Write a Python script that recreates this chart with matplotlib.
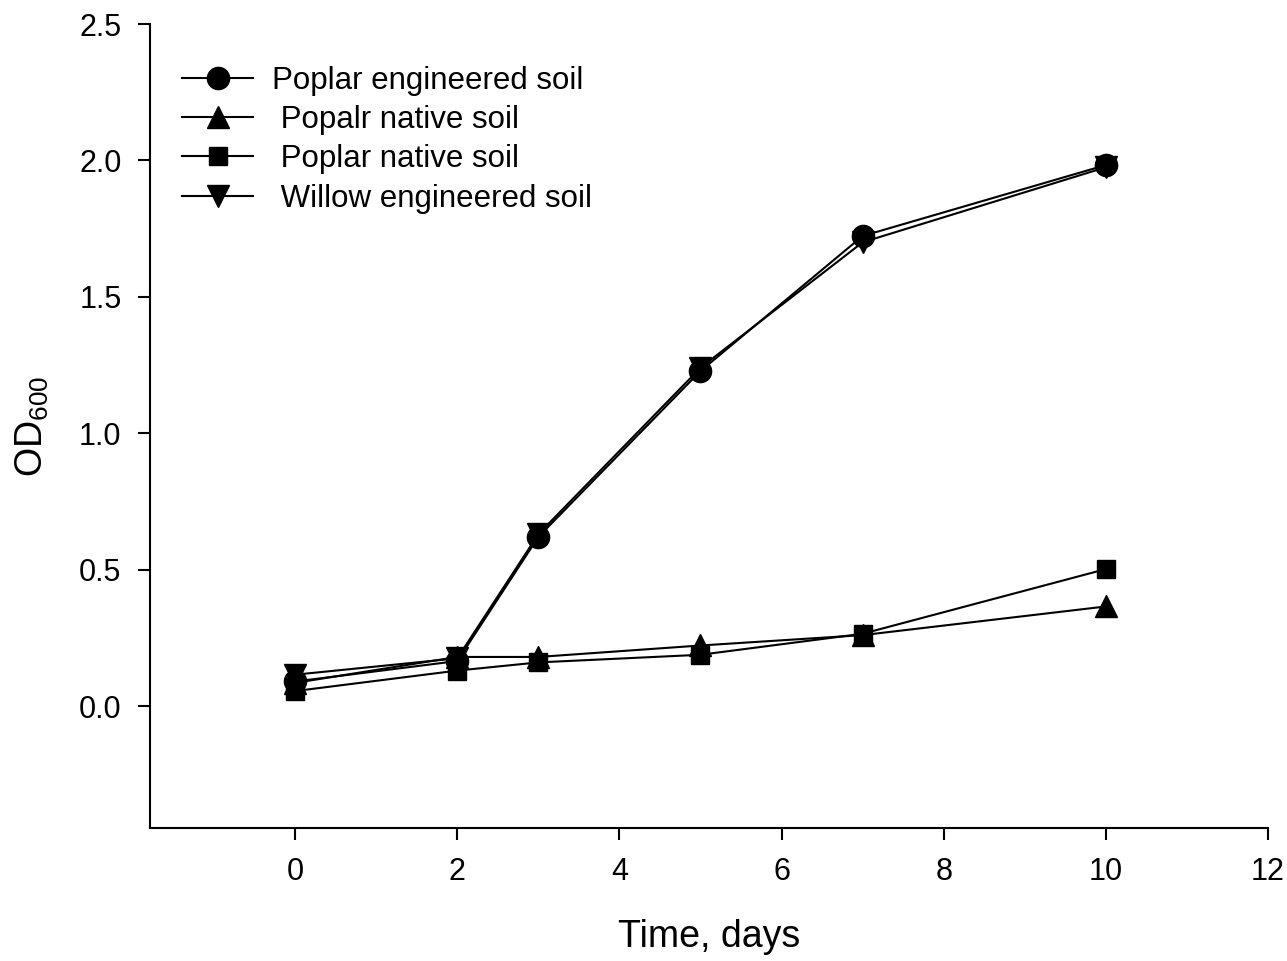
import matplotlib
matplotlib.use("Agg")
import matplotlib.pyplot as plt

plt.rcParams['font.family'] = ['Liberation Sans', 'DejaVu Sans']
plt.rcParams['mathtext.fontset'] = 'custom'
plt.rcParams['mathtext.rm'] = 'Liberation Sans'

days = [0, 2, 3, 5, 7, 10]
poplar_eng = [0.09, 0.165, 0.62, 1.228, 1.723, 1.983]
popalr_native = [0.085, 0.18, 0.18, 0.222, 0.26, 0.365]
poplar_native = [0.055, 0.13, 0.16, 0.188, 0.265, 0.502]
willow_eng = [0.115, 0.175, 0.63, 1.24, 1.70, 1.975]

labels = ["Poplar engineered soil", " Popalr native soil",
          " Poplar native soil", " Willow engineered soil"]

fig = plt.figure(figsize=(12.87, 9.61), dpi=100)
ax = fig.add_axes([0.1166, 0.1384, 0.8686, 0.8366])

style = dict(color='black', lw=1.5)
ax.plot(days, poplar_eng, marker='o', ms=16, label=labels[0], **style)
ax.plot(days, popalr_native, marker='^', ms=16, label=labels[1], **style)
ax.plot(days, poplar_native, marker='s', ms=13, label=labels[2], **style)
ax.plot(days, willow_eng, marker='v', ms=16, label=labels[3], **style)

ax.set_xlim(-1.79, 12)
ax.set_ylim(-0.447, 2.5)
ax.set_xticks([0, 2, 4, 6, 8, 10, 12])
ax.set_yticks([0.0, 0.5, 1.0, 1.5, 2.0, 2.5])
ax.set_yticklabels(['0.0', '0.5', '1.0', '1.5', '2.0', '2.5'])
ax.spines['top'].set_visible(False)
ax.spines['right'].set_visible(False)
for s in ['left', 'bottom']:
    ax.spines[s].set_linewidth(1.5)
ax.tick_params(direction='out', length=8.6, width=1.5, labelsize=22, pad=12)

ax.set_xlabel('Time, days', fontsize=27)
ax.set_ylabel(r'OD$_{\mathregular{600}}$', fontsize=27)
ax.xaxis.set_label_coords(0.5, -0.113)
ax.yaxis.set_label_coords(-0.089, 0.5)

ax.legend(loc='upper left', frameon=False, fontsize=22.5, handlelength=2.27,
          labelspacing=0.30, handletextpad=0.6, borderpad=0,
          borderaxespad=0, bbox_to_anchor=(0.0286, 0.9484))

fig.savefig('out.png', dpi=100)
